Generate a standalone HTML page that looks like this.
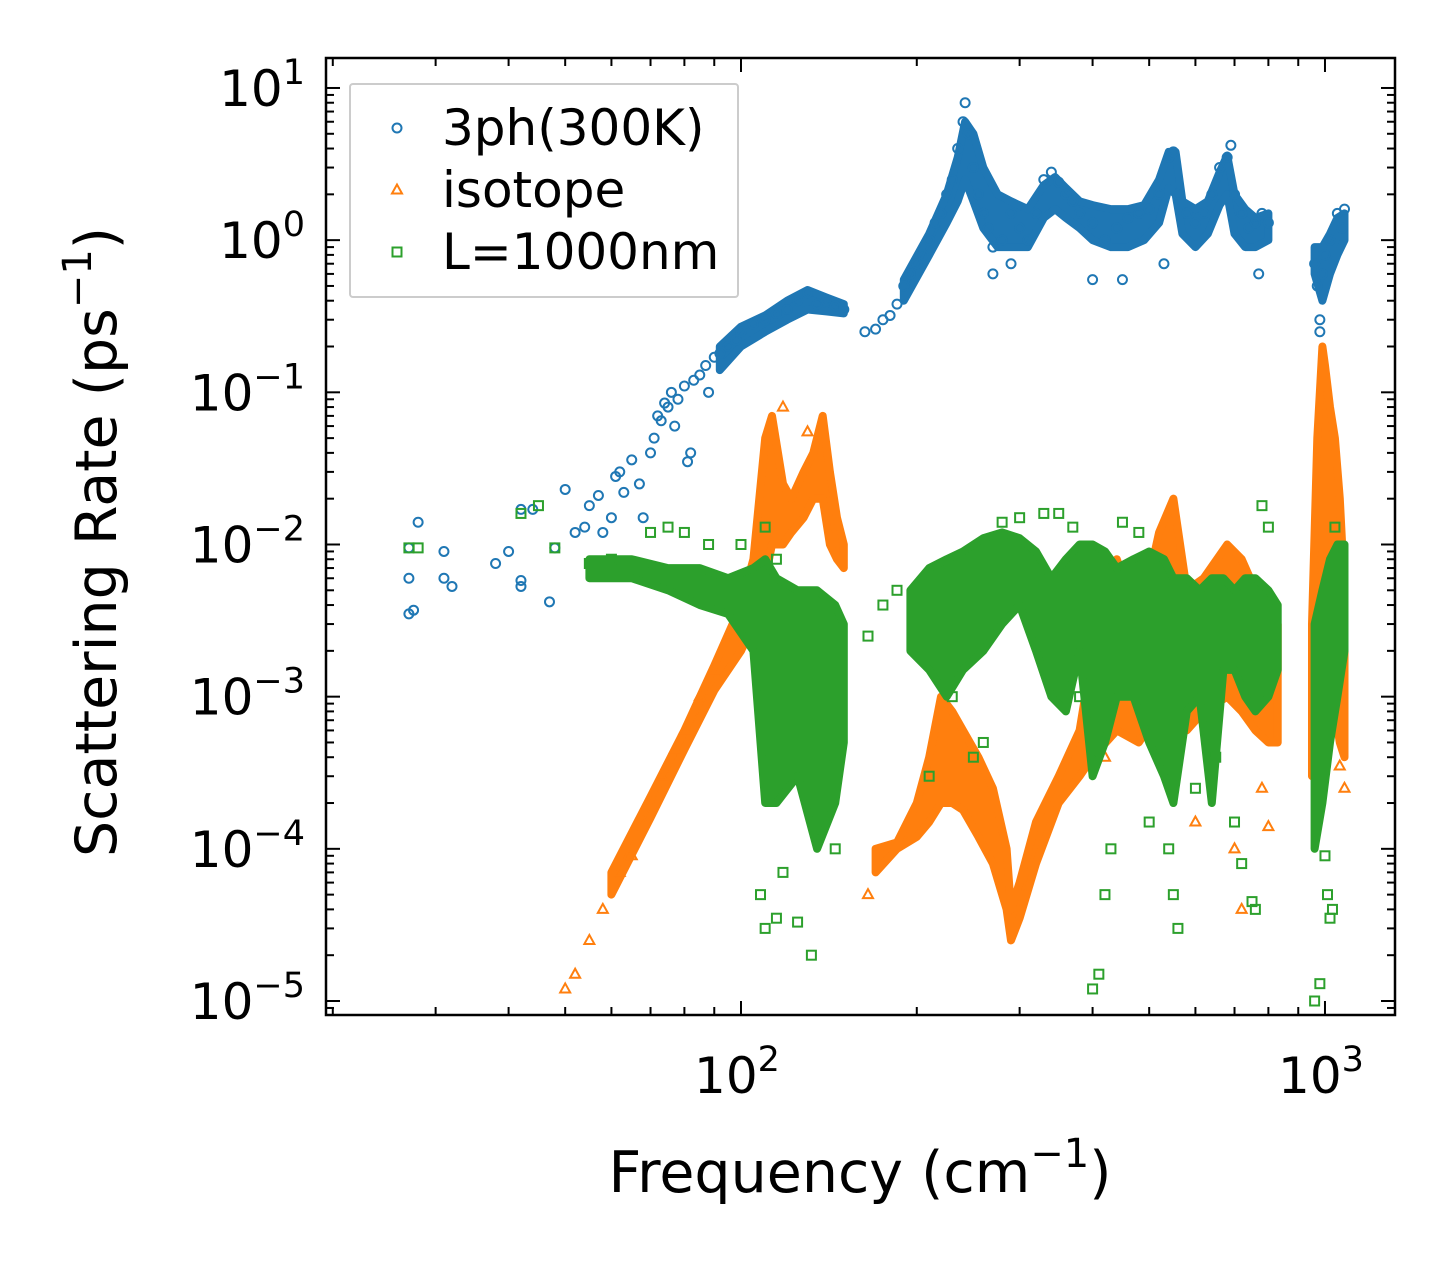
<!DOCTYPE html>
<html>
<head>
<meta charset="utf-8">
<style>
html,body{margin:0;padding:0;background:#fff;}
svg text{font-family:"DejaVu Sans","Liberation Sans",sans-serif;fill:#000;}
</style>
</head>
<body>
<svg id="chart" width="1455" height="1265" viewBox="0 0 1455 1265" xmlns="http://www.w3.org/2000/svg">
<rect width="1455" height="1265" fill="#fff"/>
<g id="plot"></g>
<g id="axes"></g>
<g id="legend"></g>
</svg>
<script>
// ---- data ----
const blueX = [27,27,27.5,28,27,31,32,31,38,40,42,42,42,44,47,48,50,52,54,55,57,58,60,61,62,63,65,67,68,70,71,72,73,74,75,76,77,78,80,81,82,83,85,87,88,90,92,95,98,100,105,110,115,120,125,130,135,140,145,150,163,170,175,180,185,190,195,200,205,210,215,220,225,230,235,240,242,245,250,255,260,265,270,280,290,300,310,320,330,340,350,360,370,380,400,420,440,460,480,500,520,540,550,560,580,600,620,640,660,680,690,700,720,740,760,780,800,960,970,980,990,1000,1020,1050,1070,1080,270,290,400,450,530,770,980];
const blueY = [0.0035,0.006,0.0037,0.014,0.0095,0.006,0.0053,0.009,0.0075,0.009,0.0058,0.0053,0.017,0.017,0.0042,0.0095,0.023,0.012,0.013,0.018,0.021,0.012,0.015,0.028,0.03,0.022,0.036,0.025,0.015,0.04,0.05,0.07,0.065,0.085,0.08,0.1,0.06,0.09,0.11,0.035,0.04,0.12,0.13,0.15,0.1,0.17,0.18,0.2,0.22,0.25,0.28,0.3,0.33,0.35,0.4,0.45,0.38,0.4,0.37,0.35,0.25,0.26,0.3,0.32,0.38,0.5,0.6,0.7,0.8,1.0,1.3,1.5,2,2.5,4,6,8,5,3,2,1.5,1.2,0.9,1.0,1.5,1.2,1.0,1.5,2.5,2.8,2.4,2.0,1.8,1.5,1.3,1.0,1.2,1.4,1.5,1.6,2.0,3.5,3.8,2.0,1.5,1.3,1.5,2.0,3.0,3.5,4.2,2.0,1.5,1.2,1.3,1.5,1.3,0.7,0.5,0.3,0.6,0.8,1.0,1.5,1.2,1.6,0.6,0.7,0.55,0.55,0.7,0.6,0.25];
const blueBandX  = [92,100,110,120,130,140,150,null,190,210,225,235,242,250,260,275,290,310,330,345,360,380,400,430,460,490,520,540,555,570,600,630,660,680,700,730,760,800,null,960,990,1020,1050,1080];
const blueBandHi = [0.2,0.27,0.32,0.4,0.47,0.42,0.38,null,0.55,1.1,2.0,3.5,6,5,3,2,1.8,1.6,2.3,2.6,2.2,1.8,1.7,1.6,1.6,1.7,2.5,3.8,3.8,1.8,1.6,1.8,2.8,3.6,2.0,1.6,1.4,1.5,null,0.9,0.9,1.1,1.4,1.5];
const blueBandLo = [0.14,0.2,0.25,0.3,0.35,0.34,0.33,null,0.4,0.8,1.3,1.8,2.5,1.8,1.2,0.9,0.9,0.9,1.4,1.6,1.4,1.2,1.0,0.9,0.9,1.0,1.3,2.2,2.0,1.1,0.9,1.1,1.7,2.0,1.1,0.9,0.9,1.0,null,0.6,0.4,0.6,0.8,1.0];

const orangeX = [50,52,55,58,62,65,68,70,73,77,80,85,90,95,100,118,130,165,400,420,470,540,600,700,720,780,800,1080,1060];
const orangeY = [1.2e-5,1.5e-5,2.5e-5,4e-5,7e-5,9e-5,1.5e-4,2e-4,3e-4,4.5e-4,6e-4,1e-3,1.5e-3,2.5e-3,4e-3,0.08,0.055,5e-5,5e-4,4e-4,2e-3,1e-3,1.5e-4,1e-4,4e-5,2.5e-4,1.4e-4,2.5e-4,3.5e-4];
const orangeBandX  = [60,70,80,90,100,105,110,113,118,122,128,133,138,142,146,150,null,170,185,200,210,220,230,240,255,270,285,290,300,320,350,380,400,440,480,520,550,580,620,680,720,760,800,830,null,950,970,990,1000,1020,1040,1060,1080];
const orangeBandHi = [7e-5,2.2e-4,6e-4,1.6e-3,0.004,0.008,0.05,0.07,0.025,0.02,0.03,0.04,0.07,0.03,0.015,0.01,null,1e-4,1.1e-4,2e-4,4e-4,1e-3,8e-4,6e-4,4e-4,2.5e-4,1e-4,4e-5,6e-5,1.5e-4,3e-4,6e-4,2e-3,8e-3,3e-3,1.2e-2,2e-2,5e-3,6e-3,1e-2,8e-3,5e-3,3e-3,3e-3,null,3e-3,0.05,0.2,0.15,0.08,0.05,0.02,0.005];
const orangeBandLo = [5e-5,1.6e-4,4.5e-4,1.1e-3,0.002,0.003,0.006,0.01,0.01,0.012,0.015,0.02,0.02,0.01,0.008,0.007,null,7e-5,1e-4,1.2e-4,1.5e-4,2e-4,2e-4,1.8e-4,1.2e-4,8e-5,4e-5,2.5e-5,3.5e-5,8e-5,2e-4,3e-4,4e-4,6e-4,5e-4,8e-4,1e-3,6e-4,8e-4,1e-3,8e-4,6e-4,5e-4,5e-4,null,3e-4,1e-3,3e-3,4e-3,1e-3,8e-4,5e-4,4e-4];

const greenX = [27,28,42,45,48,55,60,70,75,80,88,100,110,115,120,125,110,115,125,132,108,118,140,145,165,175,185,210,230,250,260,280,300,330,350,370,380,400,410,420,430,450,480,500,540,550,560,600,650,700,720,750,760,780,800,960,980,1000,1010,1020,1030,1040];
const greenY = [0.0095,0.0095,0.016,0.018,0.0095,0.0075,0.008,0.012,0.013,0.012,0.01,0.01,0.013,0.008,0.0005,0.0003,3e-5,3.5e-5,3.3e-5,2e-5,5e-5,7e-5,4e-4,1e-4,2.5e-3,0.004,0.005,3e-4,1e-3,4e-4,5e-4,0.014,0.015,0.016,0.016,0.013,1e-3,1.2e-5,1.5e-5,5e-5,1e-4,0.014,0.012,1.5e-4,1e-4,5e-5,3e-5,2.5e-4,4e-4,1.5e-4,8e-5,4.5e-5,4e-5,0.018,0.013,1e-5,1.3e-5,9e-5,5e-5,3.5e-5,4e-5,0.013];
const greenBandX  = [55,65,75,85,95,105,110,115,125,135,145,150,null,195,210,225,240,260,280,300,320,340,360,380,400,420,440,470,500,530,550,580,610,640,670,700,730,760,800,830,null,960,990,1020,1050,1080];
const greenBandHi = [0.008,0.008,0.007,0.007,0.006,0.007,0.008,0.006,0.005,0.005,0.004,0.003,null,0.005,0.007,0.008,0.009,0.011,0.012,0.011,0.009,0.006,0.008,0.010,0.01,0.009,0.007,0.008,0.009,0.008,0.006,0.006,0.005,0.006,0.006,0.005,0.006,0.006,0.005,0.004,null,0.003,0.005,0.008,0.01,0.01];
const greenBandLo = [0.006,0.006,0.005,0.004,0.0035,0.002,2e-4,2e-4,3e-4,1e-4,2e-4,5e-4,null,0.002,0.0015,0.001,0.0015,0.002,0.003,0.004,0.002,0.001,0.0008,0.002,0.0003,0.0005,0.001,0.001,0.0005,0.0003,0.0002,0.0008,0.001,0.0002,0.0015,0.0015,0.001,0.0008,0.001,0.0015,null,1e-4,2e-4,5e-4,1e-3,2e-3];

const yTickExps = [1,0,-1,-2,-3,-4,-5];
const xTickExps = [2,3];

// ---- axes functions ----
const L=326,R=1395,T=58,B=1015;
const xl0=1.2894, xl1=3.1199, yl0=-5.092, yl1=1.197;
function xs(v){return L+(Math.log10(v)-xl0)/(xl1-xl0)*(R-L);}
function ys(v){return B-(Math.log10(v)-yl0)/(yl1-yl0)*(B-T);}
const NS="http://www.w3.org/2000/svg";
function mk(tag,attrs,parent){const e=document.createElementNS(NS,tag);for(const k in attrs)e.setAttribute(k,attrs[k]);parent.appendChild(e);return e;}
const plot=document.getElementById('plot');
const axes=document.getElementById('axes');
const legend=document.getElementById('legend');
const cp=mk('clipPath',{id:'clip'},plot);
mk('rect',{x:L,y:T,width:R-L,height:B-T},cp);
const clipG=mk('g',{'clip-path':'url(#clip)'},plot);

function band(xa,lo,hi,color,name){
  let segs=[[]];
  xa.forEach((x,i)=>{if(x===null)segs.push([]);else segs[segs.length-1].push(i);});
  segs.forEach(s=>{
    if(s.length<2)return;
    const top=s.map(i=>xs(xa[i]).toFixed(1)+','+ys(hi[i]).toFixed(1));
    const bot=s.slice().reverse().map(i=>xs(xa[i]).toFixed(1)+','+ys(lo[i]).toFixed(1));
    const p=mk('polygon',{points:top.concat(bot).join(' '),fill:color,stroke:color,'stroke-width':8,'stroke-linejoin':'round'},clipG);
    
    
  });
}
function marker(kind,cx,cy,color,parent){
  let e;
  if(kind==='circle'){e=mk('circle',{cx:cx,cy:cy,r:4.5,fill:'none',stroke:color,'stroke-width':2},parent);}
  else if(kind==='tri'){e=mk('polygon',{points:`${cx},${cy-5.5} ${cx-5},${cy+3.5} ${cx+5},${cy+3.5}`,fill:'none',stroke:color,'stroke-width':2},parent);}
  else {e=mk('rect',{x:cx-4.5,y:cy-4.5,width:9,height:9,fill:'none',stroke:color,'stroke-width':2},parent);}
  return e;
}
function series(xa,ya,kind,color,name){
  xa.forEach((x,i)=>{
    const e=marker(kind,xs(x),ys(ya[i]),color,clipG);
    
    
  });
}
const BLUE='#1f77b4',ORANGE='#ff7f0e',GREEN='#2ca02c';
band(blueBandX,blueBandLo,blueBandHi,BLUE,'3ph-dense-band');
series(blueX,blueY,'circle',BLUE,'3ph-point');
band(orangeBandX,orangeBandLo,orangeBandHi,ORANGE,'isotope-dense-band');
series(orangeX,orangeY,'tri',ORANGE,'isotope-point');
band(greenBandX,greenBandLo,greenBandHi,GREEN,'boundary-dense-band');
series(greenX,greenY,'sq',GREEN,'boundary-point');

// frame
const fr=mk('rect',{x:L,y:T,width:R-L,height:B-T,fill:'none',stroke:'#000','stroke-width':2.5},axes);



// y ticks
for(let e=-6;e<=1;e++){
  for(let m=1;m<10;m++){
    const v=m*Math.pow(10,e);const y=ys(v);
    if(y<T-0.5||y>B+0.5)continue;
    const len=m===1?14:8;
    mk('line',{x1:L,x2:L+len,y1:y,y2:y,stroke:'#000','stroke-width':2},axes);
    mk('line',{x1:R,x2:R-len,y1:y,y2:y,stroke:'#000','stroke-width':2},axes);
  }
}
yTickExps.forEach(e=>{
  const t=mk('text',{x:305,y:ys(Math.pow(10,e))+18,'text-anchor':'end','font-size':50},axes);
  
  
  t.appendChild(document.createTextNode('10'));
  const s=mk('tspan',{dy:-22,'font-size':35},t);s.textContent=(e<0?'\u2212'+(-e):''+e);
});
// x ticks
for(let e=1;e<=3;e++){
  for(let m=1;m<10;m++){
    const v=m*Math.pow(10,e);const x=xs(v);
    if(x<L-0.5||x>R+0.5)continue;
    const len=m===1?14:8;
    mk('line',{x1:x,x2:x,y1:B,y2:B-len,stroke:'#000','stroke-width':2},axes);
    mk('line',{x1:x,x2:x,y1:T,y2:T+len,stroke:'#000','stroke-width':2},axes);
  }
}
xTickExps.forEach(e=>{
  const t=mk('text',{x:xs(Math.pow(10,e))-4,y:1093,'text-anchor':'middle','font-size':50},axes);
  
  
  t.appendChild(document.createTextNode('10'));
  const s=mk('tspan',{dy:-22,'font-size':35},t);s.textContent=''+e;
});
// axis titles
const xt=mk('text',{x:860,y:1192,'text-anchor':'middle','font-size':57},axes);


xt.appendChild(document.createTextNode('Frequency (cm'));
mk('tspan',{dy:-25,'font-size':40},xt).textContent='\u22121';
mk('tspan',{dy:25},xt).textContent=')';
const yt=mk('text',{x:0,y:0,'text-anchor':'middle','font-size':57,transform:'translate(116,542) rotate(-90)'},axes);


yt.appendChild(document.createTextNode('Scattering Rate (ps'));
mk('tspan',{dy:-25,'font-size':40},yt).textContent='\u22121';
mk('tspan',{dy:25},yt).textContent=')';

// legend
const lb=mk('rect',{x:350,y:84,width:388,height:213,fill:'#fff',stroke:'#ccc','stroke-width':2,rx:3},legend);


[['3ph(300K)','circle',BLUE,128],['isotope','tri',ORANGE,190],['L=1000nm','sq',GREEN,252]].forEach(d=>{
  const g=mk('g',{},legend);
  
  
  marker(d[1],397,d[3],d[2],g);
  const t=mk('text',{x:442,y:d[3]+17,'font-size':50},g);t.textContent=d[0];
});
</script>
</body>
</html>
